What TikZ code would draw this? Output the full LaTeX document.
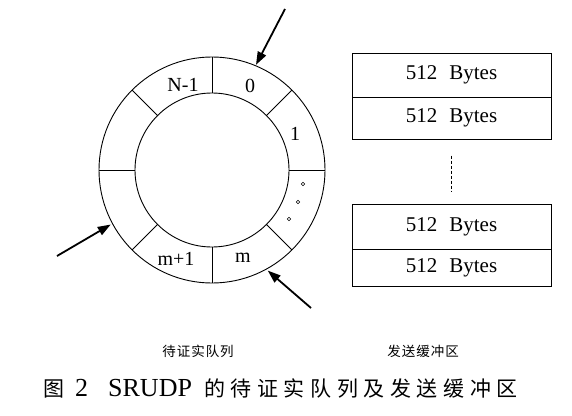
\documentclass[tikz,border=0pt]{standalone}
\usepackage{fontspec}
\setmainfont{Liberation Serif}
\newfontfamily\cjk{Noto Sans CJK SC}
\usetikzlibrary{arrows.meta}
\begin{document}
\begin{tikzpicture}[x=1pt,y=-1pt,
  ringline/.style={line width=0.9pt},
  lbl/.style={inner sep=0pt,anchor=base,font=\fontsize{20}{20}\selectfont},
  cell/.style={draw,line width=1pt,minimum width=199pt,inner sep=0pt,font=\fontsize{21}{21}\selectfont},
  ptr/.style={line width=1.8pt,-{Triangle[length=13pt,width=9pt]}},
  smalldot/.style={line width=0.6pt},
  sublbl/.style={inner sep=0pt,font=\cjk\fontsize{13.5}{14}\selectfont}]
\useasboundingbox (0,0) rectangle (572,415);
\fill[white] (0,0) rectangle (572,415);
% ring
\coordinate (C) at (212,170);
\draw[ringline] (C) circle[radius=113];
\draw[ringline] (C) circle[radius=77];
\foreach \a in {0,45,...,315}
  \draw[ringline] ([shift={(\a:77)}]C) -- ([shift={(\a:113)}]C);
\node[lbl] (l0) at (250,92) {0};
\node[lbl] (lN) at (183,91) {N-1};
\node[lbl] (l1) at (295,140) {1};
\node[lbl] (lm) at (243,262) {m};
\node[lbl] (lm1) at (176,265) {m+1};
\draw[smalldot] (303,184) circle[radius=1.7];
\draw[smalldot] (298,202) circle[radius=1.7];
\draw[smalldot] (289,219) circle[radius=1.7];
% pointers
\coordinate (t1) at (285,9);
\coordinate (h1) at ([shift={(-67.3:114)}]C);
\coordinate (t2) at (57,256);
\coordinate (h2) at ([shift={(151.7:115)}]C);
\coordinate (t3) at (311,308);
\coordinate (h3) at ([shift={(61:115)}]C);
\draw[ptr] (t1) -- (h1);
\draw[ptr] (t2) -- (h2);
\draw[ptr] (t3) -- (h3);
% buffer
\node[cell,minimum height=44pt] (b1) at (451.5,75) {512\hspace{12pt}Bytes};
\node[cell,minimum height=42pt] (b2) at (451.5,118) {512\hspace{12pt}Bytes};
\node[cell,minimum height=45pt] (b3) at (451.5,226.5) {512\hspace{12pt}Bytes};
\node[cell,minimum height=37pt] (b4) at (451.5,267.5) {512\hspace{12pt}Bytes};
\draw[line width=1.3pt,dash pattern=on 3pt off 2pt] ([yshift=-16pt]b2.south) -- ([yshift=12pt]b3.north);
% labels
\node[sublbl] (q) at (198,351) {待\kern1pt证\kern1pt实\kern1pt队\kern1pt列};
\node[sublbl] (sb) at (423,351) {发\kern1pt送\kern1pt缓\kern1pt冲\kern1pt区};
\node[inner sep=0pt,anchor=base west,font=\fontsize{26}{26}\selectfont] (cap) at (43,396)
  {{\cjk\fontsize{21}{21}\selectfont 图}\hspace{11pt}2\hspace{20pt}SRUDP\hspace{12pt}{\cjk\fontsize{21}{21}\selectfont 的\kern5.6pt 待\kern5.6pt 证\kern5.6pt 实\kern5.6pt 队\kern5.6pt 列\kern5.6pt 及\kern5.6pt 发\kern5.6pt 送\kern5.6pt 缓\kern5.6pt 冲\kern5.6pt 区}};
\end{tikzpicture}
\end{document}
